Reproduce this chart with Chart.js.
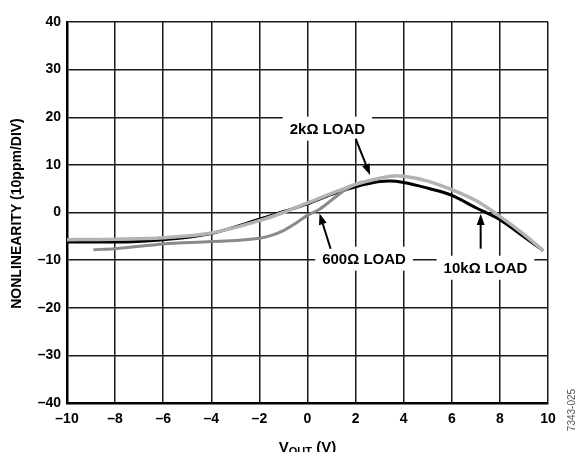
<!doctype html>
<html lang="en">
  <head>
    <meta charset="utf-8">
    <title>Nonlinearity vs VOUT</title>
    <style>
      * { margin: 0; padding: 0; }
      body { background: #fff; }
      .chartBox { width: 580px; height: 452px; }
    </style>
  </head>
  <body>
    <div class="chartBox">
      <canvas id="myChart" width="580" height="452"></canvas>
    </div>
    <script src="https://cdn.jsdelivr.net/npm/chart.js/dist/chart.umd.min.js"></script>
    <script>
// data
const vout10k = [-10, -8, -6, -4, -2, -1, 0, 1, 2, 3, 3.4, 4, 5, 6, 7, 8, 9, 9.8];
const nl10k   = [-6.2, -6.2, -5.7, -4.4, -1.4, 0.2, 1.8, 3.8, 5.4, 6.5, 6.6, 6.3, 5.1, 3.6, 1.0, -1.5, -5.1, -8.0];

const vout2k = [-10, -8, -6, -4, -2, -1, 0, 1, 2, 3, 3.7, 4, 5, 6, 7, 8, 9, 9.8];
const nl2k   = [-5.7, -5.6, -5.3, -4.3, -1.7, 0, 2.0, 4.0, 5.9, 7.2, 7.7, 7.6, 6.6, 4.8, 2.5, -0.8, -4.6, -8.0];

const vout600 = [-8.9, -8, -6, -4, -2, -1.5, -1, -0.5, 0, 0.5, 1, 1.5, 2, 2.3];
const nl600   = [-7.8, -7.6, -6.6, -6.1, -5.4, -4.8, -3.8, -2.3, -0.6, 0.7, 2.6, 4.5, 5.9, 6.4];

const xTicks = [-10, -8, -6, -4, -2, 0, 2, 4, 6, 8, 10];
const yTicks = [-40, -30, -20, -10, 0, 10, 20, 30, 40];

// label text, anchor (data units) and arrow (from -> to, data units)
const notes = [
  { text: '2kΩ LOAD',   x: 0.83, y: 17.6,  from: [2.0, 15.5], to: [2.6, 7.9] },
  { text: '600Ω LOAD',  x: 2.35, y: -9.7,  from: [0.96, -7.6], to: [0.5, -0.2] },
  { text: '10kΩ LOAD',  x: 7.4,  y: -11.6, from: [7.2, -7.6], to: [7.2, -0.3] }
];

const FONT = '"Liberation Sans", Arial, sans-serif';
const toXY = (xs, ys) => xs.map((x, i) => ({ x: x, y: ys[i] }));
const dash = v => String(v).replace('-', '\u2013');

const annotate = {
  id: 'annotate',
  afterDatasetsDraw(chart) {
    const ctx = chart.ctx;
    const sx = chart.scales.x, sy = chart.scales.y;
    ctx.save();
    ctx.font = 'bold 15px ' + FONT;
    ctx.textAlign = 'center';
    ctx.textBaseline = 'middle';
    notes.forEach(n => {
      const cx = sx.getPixelForValue(n.x), cy = sy.getPixelForValue(n.y);
      const w = ctx.measureText(n.text).width + 14;
      ctx.fillStyle = '#fff';
      ctx.fillRect(cx - w / 2, cy - 12, w, 24);
      ctx.fillStyle = '#000';
      ctx.fillText(n.text, cx, cy + 1);
      // arrow
      const x1 = sx.getPixelForValue(n.from[0]), y1 = sy.getPixelForValue(n.from[1]);
      const x2 = sx.getPixelForValue(n.to[0]), y2 = sy.getPixelForValue(n.to[1]);
      const ang = Math.atan2(y2 - y1, x2 - x1);
      const hl = 11, hw = 4;
      ctx.strokeStyle = '#000';
      ctx.lineWidth = 2;
      ctx.beginPath();
      ctx.moveTo(x1, y1);
      ctx.lineTo(x2 - hl * Math.cos(ang), y2 - hl * Math.sin(ang));
      ctx.stroke();
      ctx.beginPath();
      ctx.moveTo(x2, y2);
      ctx.lineTo(x2 - hl * Math.cos(ang) + hw * Math.sin(ang), y2 - hl * Math.sin(ang) - hw * Math.cos(ang));
      ctx.lineTo(x2 - hl * Math.cos(ang) - hw * Math.sin(ang), y2 - hl * Math.sin(ang) + hw * Math.cos(ang));
      ctx.closePath();
      ctx.fill();
    });

    // axis titles
    const area = chart.chartArea;
    ctx.font = 'bold 14px ' + FONT;
    ctx.fillStyle = '#000';
    ctx.save();
    ctx.translate(17, (area.top + area.bottom) / 2 + 1);
    ctx.rotate(-Math.PI / 2);
    ctx.fillText('NONLINEARITY (10ppm/DIV)', 0, 0);
    ctx.restore();

    // V_OUT (V) with subscript
    ctx.textAlign = 'left';
    ctx.textBaseline = 'alphabetic';
    const big = 'bold 15px ' + FONT, small = 'bold 11px ' + FONT;
    ctx.font = big; const wV = ctx.measureText('V').width;
    ctx.font = small; const wS = ctx.measureText('OUT').width;
    ctx.font = big; const wR = ctx.measureText(' (V)').width;
    let tx = (area.left + area.right) / 2 - (wV + wS + wR) / 2;
    const base = 452;
    ctx.fillText('V', tx, base); tx += wV;
    ctx.font = small; ctx.fillText('OUT', tx, base + 3); tx += wS;
    ctx.font = big; ctx.fillText(' (V)', tx, base);

    // figure id
    ctx.font = '10px ' + FONT;
    ctx.fillStyle = '#555';
    ctx.textAlign = 'center';
    ctx.translate(575, 410);
    ctx.rotate(-Math.PI / 2);
    ctx.fillText('7343-025', 0, 0);
    ctx.restore();
  }
};

const data = {
  datasets: [{
    label: '2kΩ LOAD',
    data: toXY(vout2k, nl2k),
    borderColor: '#b3b3b3',
    borderWidth: 3.5,
    order: 1
  }, {
    label: '600Ω LOAD',
    data: toXY(vout600, nl600),
    borderColor: '#8a8a8a',
    borderWidth: 3,
    order: 2
  }, {
    label: '10kΩ LOAD',
    data: toXY(vout10k, nl10k),
    borderColor: '#000',
    borderWidth: 3,
    order: 3
  }]
};

const config = {
  type: 'scatter',
  data,
  options: {
    responsive: false,
    animation: false,
    showLine: true,
    elements: {
      point: { radius: 0 },
      line: { cubicInterpolationMode: 'monotone', fill: false }
    },
    layout: { padding: { left: 0, right: 32, top: 22, bottom: 0 } },
    plugins: { legend: { display: false }, tooltip: { enabled: false } },
    scales: {
      x: {
        type: 'linear', min: -10, max: 10,
        afterBuildTicks: s => { s.ticks = xTicks.map(v => ({ value: v })); },
        afterFit: s => { s.height = 49; },
        grid: { color: '#1a1a1a', lineWidth: 1.5, drawTicks: false },
        border: { color: '#000', width: 2.5 },
        ticks: { color: '#000', padding: 8, font: { family: FONT, size: 14, weight: 'bold' }, callback: v => dash(v), maxRotation: 0 }
      },
      y: {
        type: 'linear', min: -40, max: 40,
        afterBuildTicks: s => { s.ticks = yTicks.map(v => ({ value: v })); },
        afterFit: s => { s.width = 67; },
        grid: { color: '#1a1a1a', lineWidth: 1.5, drawTicks: false },
        border: { color: '#000', width: 2.5 },
        ticks: { color: '#000', padding: 6, font: { family: FONT, size: 14, weight: 'bold' }, callback: v => dash(v) }
      }
    }
  },
  plugins: [annotate]
};

const myChart = new Chart(document.getElementById('myChart'), config);
    </script>
  </body>
</html>
